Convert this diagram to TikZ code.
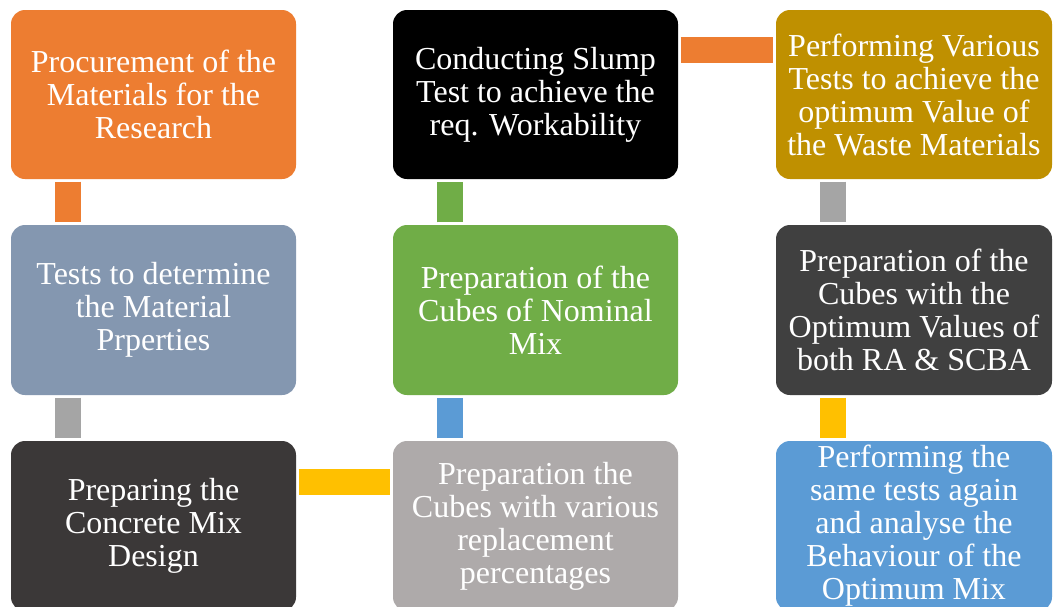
\documentclass[tikz,border=0pt]{standalone}
\usepackage{fontspec}
\setmainfont{Liberation Serif}
\usepackage{xcolor}

\definecolor{boxorange}{HTML}{ED7D31}
\definecolor{boxslate}{HTML}{8497B0}
\definecolor{boxcoal}{HTML}{3B3838}
\definecolor{boxgreen}{HTML}{70AD47}
\definecolor{boxsilver}{HTML}{AEAAAA}
\definecolor{boxgold}{HTML}{BF9000}
\definecolor{boxdark}{HTML}{404040}
\definecolor{boxblue}{HTML}{5B9BD5}
\definecolor{linkgray}{HTML}{A5A5A5}
\definecolor{linkyellow}{HTML}{FFC000}

\tikzset{
  stage/.style={rectangle, rounded corners=14pt, minimum width=285pt,
    minimum height=170pt, inner sep=0pt, align=center, text=white,
    font=\fontsize{32}{33}\selectfont},
  link/.style={line width=26pt, shorten <=2.5pt, shorten >=2.5pt},
}

\begin{document}
\begin{tikzpicture}[x=1pt,y=-1pt]
\useasboundingbox[fill=white] (0,0) rectangle (1053,606);

% first column
\node[stage, fill=boxorange, minimum height=169pt] (procure) at (153.5,94.5)
  {Procurement of the\\Materials for the\\Research};
\node[stage, fill=boxslate] (props) at (153.5,310)
  {Tests to determine\\the Material\\Prperties};
\node[stage, fill=boxcoal] (design) at (153.5,526)
  {Preparing the\\Concrete Mix\\Design};

% second column
\node[stage, fill=boxsilver] (replace) at (535.5,526)
  {Preparation the\\Cubes with various\\replacement\\percentages};
\node[stage, fill=boxgreen] (nominal) at (535.5,310)
  {Preparation of the\\Cubes of Nominal\\Mix};
\node[stage, fill=black, minimum height=169pt] (slump) at (535.5,94.5)
  {Conducting Slump\\Test to achieve the\\req. Workability};

% third column
\node[stage, fill=boxgold, minimum width=276pt, minimum height=169pt] (optimum) at (914,94.5)
  {Performing Various\\Tests to achieve the\\optimum Value of\\the Waste Materials};
\node[stage, fill=boxdark, minimum width=276pt] (ratio) at (914,310)
  {Preparation of the\\Cubes with the\\Optimum Values of\\both RA \& SCBA};
\node[stage, fill=boxblue, minimum width=276pt] (behave) at (914,526)
  {Performing the\\same tests again\\and analyse the\\Behaviour of the\\Optimum Mix};

% links
\draw[link, boxorange] ([xshift=57pt]procure.south west) -- ([xshift=57pt]props.north west);
\draw[link, linkgray] ([xshift=57pt]props.south west) -- ([xshift=57pt]design.north west);
\draw[link, linkyellow] ([yshift=-41pt]design.north east) -- ([yshift=-41pt]replace.north west);
\draw[link, boxblue] ([xshift=57pt]replace.north west) -- ([xshift=57pt]nominal.south west);
\draw[link, boxgreen] ([xshift=57pt]nominal.north west) -- ([xshift=57pt]slump.south west);
\draw[link, boxorange] ([yshift=-40.5pt]slump.north east) -- ([yshift=-40.5pt]optimum.north west);
\draw[link, linkgray] ([xshift=57pt]optimum.south west) -- ([xshift=57pt]ratio.north west);
\draw[link, linkyellow] ([xshift=57pt]ratio.south west) -- ([xshift=57pt]behave.north west);
\end{tikzpicture}
\end{document}
